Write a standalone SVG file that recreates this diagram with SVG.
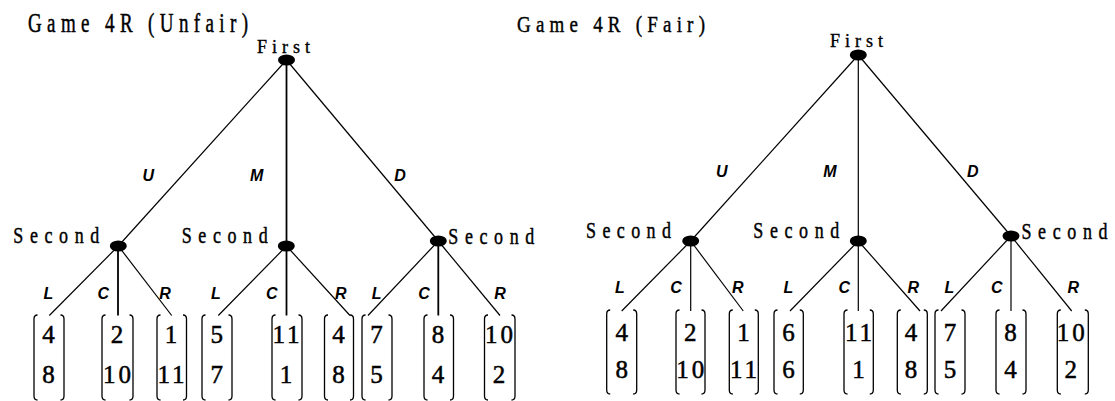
<svg xmlns="http://www.w3.org/2000/svg" width="1115" height="401" viewBox="0 0 1115 401">
<style>
.ser{font-family:"Liberation Serif","Times New Roman",serif;fill:#000;stroke:#000;stroke-width:0.35}
.ttl{font-size:19px}
.sec{font-size:18px}
.fst{font-size:18px}
.lab{font-family:"Liberation Sans",Arial,sans-serif;font-weight:bold;font-style:italic;font-size:16px;text-anchor:middle;fill:#000}
.num{font-family:"Liberation Serif","Times New Roman",serif;font-size:25px;text-anchor:middle;fill:#000;stroke:#000;stroke-width:0.5}
.w{letter-spacing:3px}
.br{fill:none;stroke:#000;stroke-width:1.3}
.ln{stroke:#000;stroke-width:1.2;fill:none}
.vl{stroke:#000;stroke-width:1.8;fill:none}
.nd{fill:#000}
</style>

<!-- Titles -->
<g id="title-unfair"><text class="ser ttl" transform="translate(28,31.7) scale(1,1.4)" textLength="220" lengthAdjust="spacing">Game 4R (Unfair)</text></g>
<g id="title-fair"><text class="ser ttl" transform="translate(517,31.7) scale(1,1.25)" textLength="188" lengthAdjust="spacing">Game 4R (Fair)</text></g>

<!-- Connectors -->
<g id="connectors">
  <!-- Unfair tree -->
  <line class="ln" x1="286.5" y1="60" x2="118.3" y2="246"/>
  <line class="vl" x1="286.5" y1="60" x2="286.5" y2="246"/>
  <line class="ln" x1="286.5" y1="60" x2="438.3" y2="241"/>
  <line class="ln" x1="118.3" y1="246" x2="49.3" y2="315.5"/>
  <line class="vl" x1="118" y1="246" x2="118" y2="315.5"/>
  <line class="ln" x1="118.3" y1="246" x2="171.7" y2="315.5"/>
  <line class="ln" x1="286.5" y1="246" x2="218.3" y2="315.5"/>
  <line class="vl" x1="286.5" y1="246" x2="286.5" y2="315.5"/>
  <line class="ln" x1="286.5" y1="246" x2="350" y2="315.5"/>
  <line class="ln" x1="438.3" y1="241" x2="368" y2="315.5"/>
  <line class="vl" x1="438.3" y1="241" x2="438.3" y2="315.5"/>
  <line class="ln" x1="438.3" y1="241" x2="500" y2="315.5"/>
  <!-- Fair tree -->
  <line class="ln" x1="858.3" y1="55" x2="690.7" y2="241"/>
  <line class="ln" x1="858.3" y1="55" x2="858.3" y2="241"/>
  <line class="ln" x1="858.3" y1="55" x2="1011" y2="236"/>
  <line class="ln" x1="690.7" y1="241" x2="621.7" y2="311"/>
  <line class="ln" x1="690.7" y1="241" x2="690.7" y2="311"/>
  <line class="ln" x1="690.7" y1="241" x2="743.3" y2="311"/>
  <line class="ln" x1="858.3" y1="241" x2="790" y2="311"/>
  <line class="ln" x1="858.3" y1="241" x2="858.3" y2="311"/>
  <line class="ln" x1="858.3" y1="241" x2="920" y2="311"/>
  <line class="ln" x1="1011" y1="236" x2="941" y2="311"/>
  <line class="ln" x1="1011" y1="236" x2="1011" y2="311"/>
  <line class="ln" x1="1011" y1="236" x2="1071.7" y2="311"/>
</g>

<!-- Edge labels -->
<g id="edge-labels">
  <text class="lab" x="148.3" y="180.8">U</text>
  <text class="lab" x="256.7" y="180.8">M</text>
  <text class="lab" x="400" y="180.8">D</text>
  <text class="lab" x="48.3" y="299">L</text>
  <text class="lab" x="103.3" y="299">C</text>
  <text class="lab" x="165" y="299">R</text>
  <text class="lab" x="216" y="299">L</text>
  <text class="lab" x="271.7" y="299">C</text>
  <text class="lab" x="340.7" y="299">R</text>
  <text class="lab" x="376.7" y="299">L</text>
  <text class="lab" x="424" y="299">C</text>
  <text class="lab" x="500" y="299">R</text>

  <text class="lab" x="721.7" y="176.8">U</text>
  <text class="lab" x="830" y="176.8">M</text>
  <text class="lab" x="972.7" y="176.8">D</text>
  <text class="lab" x="620" y="292.5">L</text>
  <text class="lab" x="676" y="292.5">C</text>
  <text class="lab" x="737.7" y="292.5">R</text>
  <text class="lab" x="788.3" y="292.5">L</text>
  <text class="lab" x="844.3" y="292.5">C</text>
  <text class="lab" x="913.3" y="292.5">R</text>
  <text class="lab" x="949.3" y="292.5">L</text>
  <text class="lab" x="996.7" y="292.5">C</text>
  <text class="lab" x="1073.3" y="292.5">R</text>
</g>

<!-- Unfair tree nodes -->
<g id="u-first">
  <ellipse class="nd" cx="286.5" cy="60" rx="8.5" ry="5.5"/>
  <text class="ser fst" x="257" y="52.7" textLength="53" lengthAdjust="spacing">First</text>
</g>
<g id="u-second-U">
  <ellipse class="nd" cx="118.3" cy="246" rx="8.5" ry="5.5"/>
  <text class="ser sec" transform="translate(13.3,243.3) scale(1,1.3)" textLength="86" lengthAdjust="spacing">Second</text>
</g>
<g id="u-second-M">
  <ellipse class="nd" cx="286.3" cy="246" rx="8.5" ry="5.5"/>
  <text class="ser sec" transform="translate(181.7,243.3) scale(1,1.3)" textLength="86" lengthAdjust="spacing">Second</text>
</g>
<g id="u-second-D">
  <ellipse class="nd" cx="438.3" cy="241" rx="8.5" ry="5.5"/>
  <text class="ser sec" transform="translate(448.3,243.5) scale(1,1.3)" textLength="86" lengthAdjust="spacing">Second</text>
</g>

<!-- Unfair tree leaves -->
<g id="u-leaf-UL">
  <path class="br" d="M37.5,315 Q34,315 34,319 V396 Q34,400 37.5,400 M60.5,315 Q64,315 64,319 V396 Q64,400 60.5,400"/>
  <text class="num" x="48.5" y="342.7">4</text><text class="num" x="48.5" y="383.3">8</text>
</g>
<g id="u-leaf-UC">
  <path class="br" d="M105.5,315 Q102,315 102,319 V396 Q102,400 105.5,400 M129.5,315 Q133,315 133,319 V396 Q133,400 129.5,400"/>
  <text class="num" x="117" y="342.7">2</text><text class="num w" x="118.5" y="383.3">10</text>
</g>
<g id="u-leaf-UR">
  <path class="br" d="M160.5,315 Q157,315 157,319 V396 Q157,400 160.5,400 M183,315 Q186.5,315 186.5,319 V396 Q186.5,400 183,400"/>
  <text class="num" x="171" y="342.7">1</text><text class="num w" x="172.5" y="383.3">11</text>
</g>
<g id="u-leaf-ML">
  <path class="br" d="M205.5,315 Q202,315 202,319 V396 Q202,400 205.5,400 M228.5,315 Q232,315 232,319 V396 Q232,400 228.5,400"/>
  <text class="num" x="216.7" y="342.7">5</text><text class="num" x="216.7" y="383.3">7</text>
</g>
<g id="u-leaf-MC">
  <path class="br" d="M275.5,315 Q272,315 272,319 V396 Q272,400 275.5,400 M298.5,315 Q302,315 302,319 V396 Q302,400 298.5,400"/>
  <text class="num w" x="287.5" y="342.7">11</text><text class="num" x="286" y="383.3">1</text>
</g>
<g id="u-leaf-MR">
  <path class="br" d="M328,315 Q324.5,315 324.5,319 V396 Q324.5,400 328,400 M350,315 Q353.5,315 353.5,319 V396 Q353.5,400 350,400"/>
  <text class="num" x="338.5" y="342.7">4</text><text class="num" x="338.5" y="383.3">8</text>
</g>
<g id="u-leaf-DL">
  <path class="br" d="M365.5,315 Q362,315 362,319 V396 Q362,400 365.5,400 M388.5,315 Q392,315 392,319 V396 Q392,400 388.5,400"/>
  <text class="num" x="376.5" y="342.7">7</text><text class="num" x="376.5" y="383.3">5</text>
</g>
<g id="u-leaf-DC">
  <path class="br" d="M427.5,315 Q424,315 424,319 V396 Q424,400 427.5,400 M450,315 Q453.5,315 453.5,319 V396 Q453.5,400 450,400"/>
  <text class="num" x="438" y="342.7">8</text><text class="num" x="438" y="383.3">4</text>
</g>
<g id="u-leaf-DR">
  <path class="br" d="M488,315 Q484.5,315 484.5,319 V396 Q484.5,400 488,400 M511.5,315 Q515,315 515,319 V396 Q515,400 511.5,400"/>
  <text class="num w" x="500.5" y="342.7">10</text><text class="num" x="499" y="383.3">2</text>
</g>

<!-- Fair tree nodes -->
<g id="f-first">
  <ellipse class="nd" cx="858.3" cy="55" rx="8.5" ry="5.5"/>
  <text class="ser fst" x="830" y="47.3" textLength="53" lengthAdjust="spacing">First</text>
</g>
<g id="f-second-U">
  <ellipse class="nd" cx="690.7" cy="241" rx="8.5" ry="5.5"/>
  <text class="ser sec" transform="translate(586,238.3) scale(1,1.3)" textLength="85" lengthAdjust="spacing">Second</text>
</g>
<g id="f-second-M">
  <ellipse class="nd" cx="858.3" cy="241" rx="8.5" ry="5.5"/>
  <text class="ser sec" transform="translate(753.3,238.3) scale(1,1.3)" textLength="86" lengthAdjust="spacing">Second</text>
</g>
<g id="f-second-D">
  <ellipse class="nd" cx="1011" cy="236" rx="8.5" ry="5.5"/>
  <text class="ser sec" transform="translate(1021.5,238.8) scale(1,1.3)" textLength="86" lengthAdjust="spacing">Second</text>
</g>

<!-- Fair tree leaves -->
<g id="f-leaf-UL">
  <path class="br" d="M610.2,310 Q606.7,310 606.7,314 V390 Q606.7,394 610.2,394 M633.2,310 Q636.7,310 636.7,314 V390 Q636.7,394 633.2,394"/>
  <text class="num" x="621.7" y="340.5">4</text><text class="num" x="621.7" y="378.3">8</text>
</g>
<g id="f-leaf-UC">
  <path class="br" d="M679.5,310 Q676,310 676,314 V390 Q676,394 679.5,394 M701.5,310 Q705,310 705,314 V390 Q705,394 701.5,394"/>
  <text class="num" x="690.3" y="340.5">2</text><text class="num w" x="691.8" y="378.3">10</text>
</g>
<g id="f-leaf-UR">
  <path class="br" d="M732.8,310 Q729.3,310 729.3,314 V390 Q729.3,394 732.8,394 M754.8,310 Q758.3,310 758.3,314 V390 Q758.3,394 754.8,394"/>
  <text class="num" x="743.5" y="340.5">1</text><text class="num w" x="745" y="378.3">11</text>
</g>
<g id="f-leaf-ML">
  <path class="br" d="M777.5,310 Q774,310 774,314 V390 Q774,394 777.5,394 M799.8,310 Q803.3,310 803.3,314 V390 Q803.3,394 799.8,394"/>
  <text class="num" x="788.5" y="340.5">6</text><text class="num" x="788.5" y="378.3">6</text>
</g>
<g id="f-leaf-MC">
  <path class="br" d="M847.5,310 Q844,310 844,314 V390 Q844,394 847.5,394 M869.8,310 Q873.3,310 873.3,314 V390 Q873.3,394 869.8,394"/>
  <text class="num w" x="860" y="340.5">11</text><text class="num" x="858.5" y="378.3">1</text>
</g>
<g id="f-leaf-MR">
  <path class="br" d="M900.8,310 Q897.3,310 897.3,314 V390 Q897.3,394 900.8,394 M923.8,310 Q927.3,310 927.3,314 V390 Q927.3,394 923.8,394"/>
  <text class="num" x="911" y="340.5">4</text><text class="num" x="911" y="378.3">8</text>
</g>
<g id="f-leaf-DL">
  <path class="br" d="M938.5,310 Q935,310 935,314 V390 Q935,394 938.5,394 M961.5,310 Q965,310 965,314 V390 Q965,394 961.5,394"/>
  <text class="num" x="950" y="340.5">7</text><text class="num" x="950" y="378.3">5</text>
</g>
<g id="f-leaf-DC">
  <path class="br" d="M999.5,310 Q996,310 996,314 V390 Q996,394 999.5,394 M1022.5,310 Q1026,310 1026,314 V390 Q1026,394 1022.5,394"/>
  <text class="num" x="1010.5" y="340.5">8</text><text class="num" x="1010.5" y="378.3">4</text>
</g>
<g id="f-leaf-DR">
  <path class="br" d="M1060.8,310 Q1057.3,310 1057.3,314 V390 Q1057.3,394 1060.8,394 M1084.8,310 Q1088.3,310 1088.3,314 V390 Q1088.3,394 1084.8,394"/>
  <text class="num w" x="1072.2" y="340.5">10</text><text class="num" x="1070.7" y="378.3">2</text>
</g>
</svg>
